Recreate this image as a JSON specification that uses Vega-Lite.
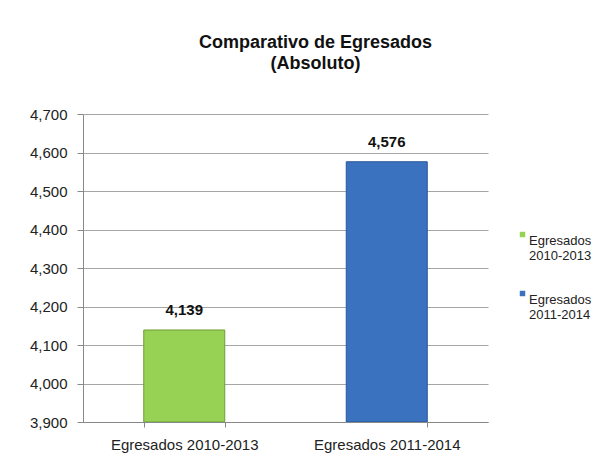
{
  "$schema": "https://vega.github.io/schema/vega-lite/v6.json",
  "autosize": "none",
  "width": 405,
  "height": 308,
  "padding": {"left": 83, "top": 114, "right": 120, "bottom": 48},
  "background": "white",
  "title": {
    "text": ["Comparativo de Egresados", "(Absoluto)"],
    "font": "Liberation Sans",
    "fontSize": 18,
    "fontWeight": "bold",
    "lineHeight": 21,
    "color": "#111111",
    "anchor": "middle",
    "dx": 30,
    "dy": 1,
    "offset": 35
  },
  "data": {
    "values": [
      {"category": "Egresados 2010-2013", "value": 4139},
      {"category": "Egresados 2011-2014", "value": 4576}
    ]
  },
  "encoding": {
    "x": {
      "field": "category",
      "type": "nominal",
      "sort": null,
      "scale": {"paddingInner": 0.6, "paddingOuter": 0.3},
      "axis": {
        "title": null,
        "labelAngle": 0,
        "tickBand": "extent",
        "labelFont": "Liberation Sans",
        "labelFontSize": 15,
        "labelColor": "#222222",
        "labelPadding": 10,
        "tickSize": 5,
        "tickColor": "#888888",
        "domainColor": "#888888"
      }
    },
    "y": {
      "field": "value",
      "type": "quantitative",
      "scale": {"domain": [3900, 4700], "zero": false, "nice": false},
      "axis": {
        "title": null,
        "values": [3900, 4000, 4100, 4200, 4300, 4400, 4500, 4600, 4700],
        "format": ",.0f",
        "labelFont": "Liberation Sans",
        "labelFontSize": 15,
        "labelColor": "#222222",
        "labelPadding": 10,
        "tickSize": 6,
        "tickColor": "#888888",
        "domainColor": "#888888",
        "grid": true,
        "gridColor": "#a6a6a6",
        "gridWidth": 1
      }
    }
  },
  "layer": [
    {
      "mark": {"type": "bar", "strokeWidth": 1, "clip": true},
      "encoding": {
        "y2": {"datum": 3900},
        "color": {
          "field": "category",
          "type": "nominal",
          "scale": {
            "domain": ["Egresados 2010-2013", "Egresados 2011-2014"],
            "range": ["#97D255", "#3B72C0"]
          },
          "legend": {
            "title": null,
            "orient": "none",
            "legendX": 433,
            "legendY": 114,
            "symbolType": "square",
            "symbolSize": 30,
            "symbolStrokeWidth": 0,
            "labelExpr": "split(datum.label, ' ')",
            "labelFont": "Liberation Sans",
            "labelFontSize": 13,
            "labelLineHeight": 12,
            "labelColor": "#222222",
            "labelBaseline": "top",
            "labelOffset": 0,
            "rowPadding": 24
          }
        },
        "stroke": {
          "field": "category",
          "type": "nominal",
          "scale": {
            "domain": ["Egresados 2010-2013", "Egresados 2011-2014"],
            "range": ["#6E9E35", "#2B5797"]
          },
          "legend": null
        }
      }
    },
    {
      "mark": {
        "type": "text",
        "font": "Liberation Sans",
        "fontSize": 15,
        "fontWeight": "bold",
        "color": "#111111",
        "baseline": "alphabetic",
        "dy": -15
      },
      "encoding": {
        "text": {"field": "value", "type": "quantitative", "format": ","}
      }
    }
  ],
  "config": {"view": {"stroke": null}}
}
